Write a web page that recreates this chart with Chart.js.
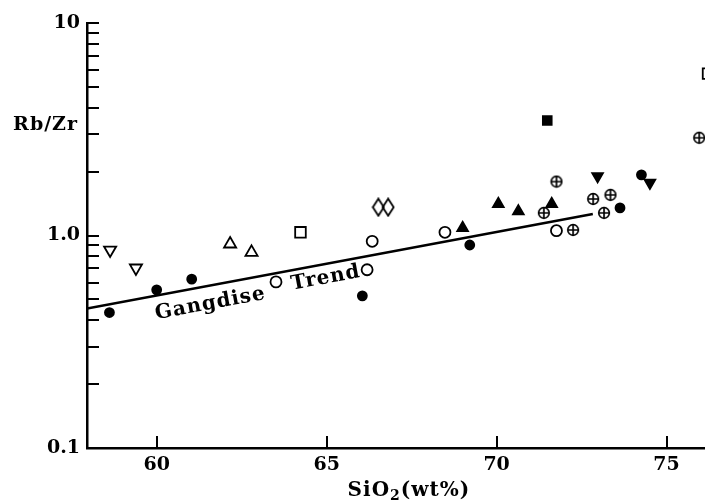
<!DOCTYPE html>
<html>
<head>
<meta charset="utf-8">
<script src="https://cdn.jsdelivr.net/npm/chart.js@4.4.1/dist/chart.umd.min.js"></script>
<style>
  html, body { margin: 0; padding: 0; background: #fff; }
  #wrap { width: 705px; height: 503px; }
</style>
</head>
<body>
<div id="wrap"><canvas id="chart" width="705" height="503"></canvas></div>
<script>
// values (SiO2 wt%, Rb/Zr)
var filledCircleX = [58.61, 60.0, 61.03, 66.05, 69.21, 73.63, 74.26];
var filledCircleY = [0.434, 0.555, 0.623, 0.520, 0.902, 1.348, 1.929];
var openCircleX = [63.51, 66.19, 66.34, 68.48, 71.76];
var openCircleY = [0.605, 0.690, 0.939, 1.035, 1.054];
var openDownTriX = [58.63, 59.39];
var openDownTriY = [0.854, 0.703];
var openUpTriX = [62.16, 62.79];
var openUpTriY = [0.912, 0.833];
var openSquareX = [64.23, 76.22];
var openSquareY = [1.035, 5.78];
var openDiamondX = [66.52, 66.81];
var openDiamondY = [1.359, 1.359];
var filledUpTriX = [69.0, 70.05, 70.64, 71.62];
var filledUpTriY = [1.085, 1.408, 1.30, 1.408];
var filledDownTriX = [72.97, 74.51];
var filledDownTriY = [1.902, 1.769];
var filledSquareX = [71.49];
var filledSquareY = [3.48];
var circlePlusX = [71.39, 71.76, 72.25, 72.84, 73.16, 73.35, 75.96];
var circlePlusY = [1.277, 1.794, 1.062, 1.486, 1.277, 1.552, 2.884];
var trendX = [57.95, 72.83];
var trendY = [0.453, 1.263];

var xTickValues = [60, 65, 70, 75];
var yTickValues = [0.1, 0.2, 0.3, 0.4, 0.5, 0.6, 0.7, 0.8, 0.9, 1, 2, 3, 4, 5, 6, 7, 8, 9, 10];
var yLabelValues = [0.1, 1, 10];
var yLabelTexts = ['0.1', '1.0', '10'];

var FONT = '"DejaVu Serif", "Liberation Serif", serif';

function pairs(xs, ys) {
  return xs.map(function (x, i) { return { x: x, y: ys[i] }; });
}

function makeIcon(w, h, draw) {
  var c = document.createElement('canvas');
  c.width = w; c.height = h;
  var g = c.getContext('2d');
  g.strokeStyle = '#000';
  g.fillStyle = '#000';
  draw(g);
  return c;
}

var diamondIcon = makeIcon(14, 20, function (g) {
  g.lineWidth = 1.8;
  g.beginPath();
  g.moveTo(7, 1.5); g.lineTo(12.5, 10); g.lineTo(7, 18.5); g.lineTo(1.5, 10);
  g.closePath();
  g.stroke();
});

var circlePlusIcon = makeIcon(14, 14, function (g) {
  g.lineWidth = 1.7;
  g.beginPath();
  g.arc(7, 7, 5.3, 0, Math.PI * 2);
  g.stroke();
  g.beginPath();
  g.moveTo(7, 1.7); g.lineTo(7, 12.3);
  g.moveTo(1.7, 7); g.lineTo(12.3, 7);
  g.stroke();
});

function markers(xs, ys, style, radius, filled, rotation) {
  return {
    data: pairs(xs, ys),
    pointStyle: style,
    pointRadius: radius,
    pointHoverRadius: radius,
    pointRotation: rotation || 0,
    pointBackgroundColor: filled ? '#000' : 'rgba(0,0,0,0)',
    pointBorderColor: '#000',
    pointBorderWidth: 1.8,
    showLine: false
  };
}

var decorations = {
  id: 'decorations',
  afterDraw: function (chart) {
    var ctx = chart.ctx;
    var xs = chart.scales.x, ys = chart.scales.y;
    var area = chart.chartArea;
    ctx.save();
    ctx.strokeStyle = '#000';
    ctx.lineWidth = 2;
    // inward tick marks
    yTickValues.forEach(function (v) {
      var py = Math.round(ys.getPixelForValue(v));
      ctx.beginPath();
      ctx.moveTo(area.left, py);
      ctx.lineTo(area.left + 12, py);
      ctx.stroke();
    });
    xTickValues.forEach(function (v) {
      var px = Math.round(xs.getPixelForValue(v));
      ctx.beginPath();
      ctx.moveTo(px, area.bottom);
      ctx.lineTo(px, area.bottom - 12);
      ctx.stroke();
    });

    ctx.fillStyle = '#000';
    // y title
    ctx.font = 'bold 19px ' + FONT;
    ctx.letterSpacing = '1px';
    ctx.textAlign = 'right';
    ctx.textBaseline = 'middle';
    ctx.fillText('Rb/Zr', area.left - 9, ys.getPixelForValue(3.3));

    // x title with subscript
    var big = 'bold 20px ' + FONT, small = 'bold 14px ' + FONT;
    ctx.textAlign = 'left';
    ctx.textBaseline = 'alphabetic';
    ctx.font = big;
    var w1 = ctx.measureText('SiO').width, w3 = ctx.measureText('(wt%)').width;
    ctx.font = small;
    var w2 = ctx.measureText('2').width;
    var cx = xs.getPixelForValue(67.42);
    var x0 = cx - (w1 + w2 + w3) / 2, base = area.bottom + 48;
    ctx.font = big; ctx.fillText('SiO', x0, base);
    ctx.font = small; ctx.fillText('2', x0 + w1, base + 4);
    ctx.font = big; ctx.fillText('(wt%)', x0 + w1 + w2, base);

    // trend label along the line
    var p1x = xs.getPixelForValue(trendX[0]), p1y = ys.getPixelForValue(trendY[0]);
    var p2x = xs.getPixelForValue(trendX[1]), p2y = ys.getPixelForValue(trendY[1]);
    var ang = Math.atan2(p2y - p1y, p2x - p1x);
    ctx.font = 'bold 20px ' + FONT;
    ctx.letterSpacing = '1px';
    ctx.textAlign = 'center';
    ctx.textBaseline = 'middle';
    [['Gangdise', 61.48, 18], ['Trend', 64.9, 14]].forEach(function (lab) {
      var px = xs.getPixelForValue(lab[1]);
      var py = p1y + (px - p1x) * Math.tan(ang);
      ctx.save();
      ctx.translate(px - Math.sin(ang) * lab[2], py + Math.cos(ang) * lab[2]);
      ctx.rotate(ang);
      ctx.fillText(lab[0], 0, 0);
      ctx.restore();
    });
    ctx.restore();
  }
};

new Chart(document.getElementById('chart').getContext('2d'), {
  type: 'scatter',
  data: {
    datasets: [
      {
        data: pairs(trendX, trendY),
        showLine: true,
        borderColor: '#000',
        borderWidth: 2.6,
        pointRadius: 0,
        pointHoverRadius: 0
      },
      markers(filledCircleX, filledCircleY, 'circle', 4.5, true),
      markers(openCircleX, openCircleY, 'circle', 5.5, false),
      markers(openDownTriX, openDownTriY, 'triangle', 7, false, 180),
      markers(openUpTriX, openUpTriY, 'triangle', 7, false),
      markers(openSquareX, openSquareY, 'rect', 7.5, false),
      markers(openDiamondX, openDiamondY, diamondIcon, 7, false),
      markers(filledUpTriX, filledUpTriY, 'triangle', 6.2, true),
      markers(filledDownTriX, filledDownTriY, 'triangle', 6.2, true, 180),
      markers(filledSquareX, filledSquareY, 'rect', 6.2, true),
      markers(circlePlusX, circlePlusY, circlePlusIcon, 7, false)
    ]
  },
  options: {
    responsive: false,
    animation: false,
    devicePixelRatio: 1,
    layout: { autoPadding: false, padding: { top: 23, right: 0, left: 0, bottom: 0 } },
    plugins: {
      legend: { display: false },
      tooltip: { enabled: false }
    },
    scales: {
      x: {
        type: 'linear',
        min: 57.95,
        max: 76.13,
        afterBuildTicks: function (scale) {
          scale.ticks = xTickValues.map(function (v) { return { value: v }; });
        },
        afterFit: function (scale) {
          scale.height = 55;
          scale.paddingLeft = 0;
          scale.paddingRight = 0;
        },
        grid: { display: false, drawTicks: false },
        border: { display: true, color: '#000', width: 2.5 },
        ticks: {
          autoSkip: false,
          maxRotation: 0,
          padding: 6,
          color: '#000',
          font: { family: FONT, size: 19, weight: 'bold' },
          callback: function (v) { return String(v); }
        }
      },
      y: {
        type: 'logarithmic',
        min: 0.1,
        max: 10,
        afterBuildTicks: function (scale) {
          scale.ticks = yTickValues.map(function (v) { return { value: v }; });
        },
        afterFit: function (scale) {
          scale.width = 87;
          scale.paddingTop = 0;
          scale.paddingBottom = 0;
        },
        grid: { display: false, drawTicks: false },
        border: { display: true, color: '#000', width: 2.5 },
        ticks: {
          autoSkip: false,
          padding: 7,
          color: '#000',
          font: { family: FONT, size: 19, weight: 'bold' },
          callback: function (v) {
            var i = yLabelValues.indexOf(v);
            return i >= 0 ? yLabelTexts[i] : '';
          }
        }
      }
    }
  },
  plugins: [decorations]
});
</script>
</body>
</html>
